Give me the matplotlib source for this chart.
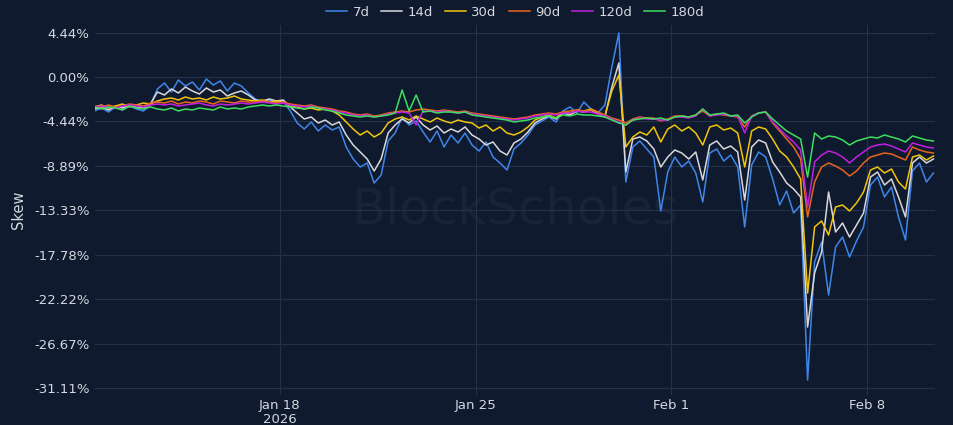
import matplotlib
matplotlib.use("Agg")
import matplotlib.pyplot as plt
import matplotlib.dates as mdates
import pandas as pd
import numpy as np

# time axis: 6-hourly samples
start = "2026-01-11 09:00"
n_points = 121

skew_7d = [
    -3.4, -3.1, -3.5, -3.0, -3.3, -2.9, -3.2, -3.4, -2.8,
    -1.2, -0.6, -1.5, -0.3, -0.9, -0.5, -1.3, -0.2, -0.8, -0.4, -1.4, -0.6, -0.9, -1.6,
    -2.2, -2.5, -2.3, -2.6, -2.4,
    -3.4, -4.6, -5.2, -4.5, -5.4, -4.8,
    -5.3, -5.0, -7.0, -8.2, -9.0, -8.6, -10.6,
    -9.8, -6.4, -5.6,
    -4.0, -4.8, -4.4,
    -5.5, -6.5, -5.4, -7.0, -5.8, -6.6, -5.6,
    -6.8, -7.4, -6.5, -8.0, -8.6, -9.3,
    -7.2, -6.6, -5.8,
    -4.8, -4.4, -4.0, -4.5,
    -3.4, -3.0, -3.6, -2.5, -3.2, -3.6,
    -2.8, 1.0, 4.4, -10.5,
    -7.0, -6.4, -7.2,
    -8.0, -13.4, -9.5, -8.0,
    -9.0, -8.4, -9.6,
    -12.5,
    -7.6, -7.2, -8.4, -7.8, -9.0,
    -15.0,
    -8.8, -7.5, -8.0,
    -10.2, -12.8, -11.4, -13.6, -12.8,
    -30.3,
    -18.5, -16.5, -21.8, -17.0, -16.0, -18.0, -16.4,
    -15.0, -10.8, -10.0, -12.0, -11.0, -14.0, -16.3,
    -9.4, -8.6, -10.5, -9.6,
]

skew_14d = [
    -3.2, -3.0, -3.3, -2.9, -3.1, -2.8, -3.0, -3.1, -2.7,
    -1.5, -1.8, -1.2, -1.6, -1.0, -1.4, -1.7, -1.1, -1.5, -1.3, -1.9, -1.6, -1.4, -1.8,
    -2.3, -2.4, -2.2, -2.4, -2.3,
    -3.0, -3.6, -4.2, -4.0, -4.6, -4.3,
    -4.8, -4.5, -5.8, -6.8, -7.5, -8.2, -9.4,
    -8.2, -5.6, -4.8,
    -4.2, -4.6, -4.0,
    -4.8, -5.3, -4.9, -5.6, -5.2, -5.5, -5.0,
    -5.8, -6.2, -6.8, -6.5, -7.4, -7.8,
    -6.6, -6.2, -5.5,
    -4.6, -4.2, -3.9, -4.2,
    -3.6, -3.8, -3.4, -3.5, -3.3, -3.7,
    -4.0, -1.0, 1.4, -9.5,
    -6.2, -6.0, -6.4,
    -7.2, -9.0, -8.0, -7.3,
    -7.6, -8.2, -7.5,
    -10.3,
    -6.8, -6.4, -7.2, -6.9, -7.5,
    -12.3,
    -7.0, -6.3, -6.6,
    -8.5, -9.5, -10.6, -11.2, -12.0,
    -25.0,
    -19.6, -17.5, -11.5, -15.5, -14.6, -16.0, -14.8,
    -13.6, -10.0, -9.5, -10.8, -10.2, -12.0, -14.0,
    -8.6, -8.0, -8.6, -8.2,
]

skew_30d = [
    -3.0, -2.8, -3.1, -2.9, -2.7, -3.0, -2.8, -2.6, -2.7,
    -2.4, -2.2, -2.1, -2.3, -2.0, -2.2, -2.1, -2.3, -2.0, -2.2, -2.1, -1.9, -2.2, -2.3,
    -2.4, -2.3, -2.5, -2.4, -2.5,
    -2.9, -3.0, -3.2, -3.1, -3.3, -3.2,
    -3.4, -3.8, -4.5, -5.2, -5.8, -5.4, -6.0,
    -5.6, -4.6, -4.2,
    -4.0, -4.3, -3.9,
    -4.2, -4.5, -4.1, -4.4, -4.6, -4.3, -4.5,
    -4.6, -5.1, -4.8, -5.4, -5.0, -5.6,
    -5.8, -5.5, -5.0,
    -4.3, -4.0, -3.8, -4.1,
    -3.5, -3.6, -3.3, -3.4, -3.2, -3.5,
    -3.9, -1.4, 0.2, -7.0,
    -6.0, -5.5, -5.8,
    -5.0, -6.5, -5.2, -4.8,
    -5.4, -5.0, -5.6,
    -6.8,
    -5.0, -4.8, -5.3, -5.1, -5.6,
    -9.0,
    -5.4, -5.0, -5.2,
    -6.2, -7.4, -8.0, -9.0, -10.2,
    -21.6,
    -15.0, -14.4, -15.8, -13.0, -12.8, -13.4, -12.6,
    -11.5, -9.3, -9.0, -9.6, -9.2, -10.5, -11.2,
    -8.0, -7.8, -8.3, -7.9,
]

skew_90d = [
    -2.9, -3.0, -2.8, -3.0, -2.9, -2.7, -2.8, -2.9, -2.6,
    -2.5, -2.6, -2.4, -2.7, -2.5, -2.6, -2.4, -2.5, -2.7, -2.4, -2.5, -2.6, -2.4, -2.5,
    -2.5, -2.4, -2.5, -2.6, -2.5,
    -2.7, -2.8, -2.9, -2.8, -3.0, -3.1,
    -3.2, -3.4, -3.5, -3.7, -3.8, -3.7, -3.9,
    -3.8, -3.6, -3.5,
    -3.4, -3.5, -3.3,
    -3.2, -3.3, -3.4, -3.3, -3.4, -3.5, -3.4,
    -3.6, -3.7, -3.8, -3.9, -4.0, -4.1,
    -4.2, -4.1, -4.0,
    -3.8, -3.7, -3.6, -3.7,
    -3.5, -3.4, -3.3, -3.4, -3.3, -3.5,
    -3.8, -4.1, -4.3, -4.6,
    -4.2, -4.0, -4.1,
    -4.1, -4.4, -4.2, -3.9,
    -3.9, -4.0, -3.8,
    -3.4,
    -3.9, -3.7, -3.8, -3.9, -4.0,
    -5.0,
    -3.9, -3.6, -3.5,
    -4.6, -5.4, -6.2, -7.0, -8.2,
    -14.0,
    -10.5, -9.0, -8.6, -8.9, -9.3, -9.9, -9.4,
    -8.6, -8.0, -7.8, -7.6, -7.7, -8.0, -8.3,
    -7.0, -7.3, -7.5, -7.6,
]

skew_120d = [
    -3.0, -2.9, -3.0, -3.1, -2.9, -2.8, -2.9, -3.0, -2.8,
    -2.7, -2.8, -2.7, -2.9, -2.8, -2.7, -2.6, -2.8, -2.9, -2.7, -2.8, -2.7, -2.6, -2.7,
    -2.6, -2.5, -2.6, -2.7, -2.6,
    -2.8, -2.9, -3.0, -2.9, -3.1, -3.2,
    -3.3, -3.5, -3.6, -3.8, -3.9, -3.8, -4.0,
    -3.9, -3.7, -3.6,
    -3.5, -3.6, -4.8,
    -3.4, -3.4, -3.5, -3.4, -3.5, -3.6, -3.5,
    -3.7, -3.8, -3.9, -4.0, -4.1, -4.2,
    -4.3, -4.2, -4.1,
    -3.9, -3.8, -3.7, -3.8,
    -3.6, -3.6, -3.4, -3.5, -3.5, -3.7,
    -3.9, -4.2, -4.5, -4.8,
    -4.3, -4.1, -4.2,
    -4.2, -4.3, -4.3, -4.0,
    -4.0, -4.1, -3.9,
    -3.2,
    -3.9, -3.8, -3.7, -3.9, -3.9,
    -5.6,
    -3.9, -3.6, -3.5,
    -4.5, -5.2, -5.9, -6.5, -7.3,
    -13.0,
    -8.5, -7.8, -7.4, -7.6, -8.0, -8.6, -8.0,
    -7.5, -7.0, -6.8, -6.7, -6.9, -7.2, -7.5,
    -6.6, -6.8, -7.0, -7.1,
]

skew_180d = [
    -3.0, -3.2, -3.0, -3.1, -3.3, -2.9, -3.1, -3.2, -3.0,
    -3.2, -3.3, -3.1, -3.4, -3.2, -3.3, -3.1, -3.2, -3.3, -3.0, -3.2, -3.1, -3.2, -3.0,
    -2.9, -2.8, -2.9, -2.8, -2.9,
    -3.0, -3.1, -3.2, -3.0, -3.1, -3.3,
    -3.4, -3.6, -3.8, -3.9, -4.0, -3.9, -4.0,
    -3.9, -3.8, -3.6,
    -1.3, -3.4, -1.8,
    -3.5, -3.4, -3.6, -3.5, -3.5, -3.6, -3.5,
    -3.8, -3.9, -4.0, -4.1, -4.2, -4.3,
    -4.5, -4.4, -4.3,
    -4.1, -4.0, -3.9, -4.1,
    -3.8, -3.9, -3.7, -3.8, -3.8, -3.9,
    -4.0, -4.3, -4.6, -4.8,
    -4.3, -4.2, -4.1,
    -4.2, -4.1, -4.3, -4.0,
    -3.9, -4.0, -3.8,
    -3.2,
    -3.8, -3.7, -3.6, -3.9, -3.8,
    -4.6,
    -4.0, -3.6, -3.5,
    -4.2, -4.8, -5.4, -5.8, -6.2,
    -10.0,
    -5.6, -6.2, -5.9, -6.0, -6.3, -6.8, -6.4,
    -6.2, -6.0, -6.1, -5.8, -6.0, -6.2, -6.5,
    -5.9, -6.1, -6.3, -6.4,
]

series_names = ["7d", "14d", "30d", "90d", "120d", "180d"]
series_values = [skew_7d, skew_14d, skew_30d, skew_90d, skew_120d, skew_180d]
series_colors = ["#3f86ea", "#d8d8dc", "#f2c40c", "#e8661c", "#c21fe0", "#3ede5e"]

y_ticks = [4.44, 0.00, -4.44, -8.89, -13.33, -17.78, -22.22, -26.67, -31.11]
x_tick_dates = ["2026-01-18", "2026-01-25", "2026-02-01", "2026-02-08"]
x_tick_labels = ["Jan 18\n2026", "Jan 25", "Feb 1", "Feb 8"]

times = pd.date_range(start=start, periods=n_points, freq="6h")

bg = "#0f1a2e"
grid_c = "#23314b"
text_c = "#d4d8e0"

fig = plt.figure(figsize=(9.54, 4.25), dpi=100, facecolor=bg)
ax = fig.add_axes([95 / 954, 1 - 395 / 425, (935 - 95) / 954, (395 - 25) / 425])
ax.set_facecolor(bg)

for name, vals, col in zip(series_names, series_values, series_colors):
    ax.plot(times, vals, color=col, lw=1.1, label=name)

ax.set_ylim(-31.8, 5.2)
ax.set_xlim(pd.Timestamp("2026-01-11 09:25"), pd.Timestamp("2026-02-10 10:20"))
ax.set_yticks(y_ticks)
ax.set_yticklabels([f"{v:.2f}%" for v in y_ticks])
ax.set_xticks(pd.to_datetime(x_tick_dates))
ax.set_xticklabels(x_tick_labels, linespacing=1.05)

ax.grid(True, color=grid_c, lw=0.8)
ax.set_axisbelow(True)
for s in ax.spines.values():
    s.set_visible(False)
ax.tick_params(colors=text_c, length=0, labelsize=9.5)
ax.tick_params(axis="x", pad=3)
ax.tick_params(axis="y", pad=4)
ax.set_ylabel("Skew", color=text_c, fontsize=10.5, labelpad=6)

ax.text(0.5, 0.5, "BlockScholes", transform=ax.transAxes, ha="center", va="center",
        fontsize=36, color="#8090a8", alpha=0.08, zorder=0)

leg = fig.legend(loc="upper center", bbox_to_anchor=(0.54, 1.015), ncol=6, frameon=False,
                 fontsize=9.5, handlelength=1.6, handletextpad=0.4, columnspacing=0.9)
for t in leg.get_texts():
    t.set_color(text_c)

fig.savefig("out.png", dpi=100, facecolor=bg)
